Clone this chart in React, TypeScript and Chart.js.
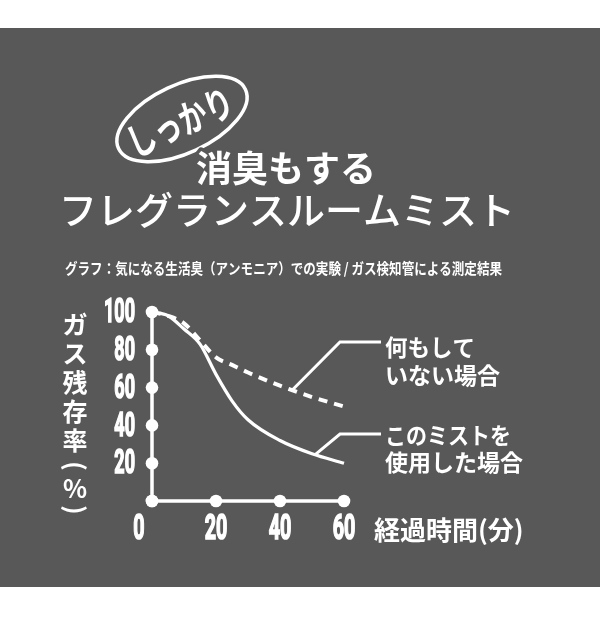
import React, { useEffect, useRef } from "react";
import { Chart, registerables } from "chart.js";

Chart.register(...registerables);

// ---- data ----
const times = [0, 5, 10, 15, 20, 25, 30, 40, 50, 60];
const noMistValues = [100, 98, 94, 85, 76, 72, 68, 61, 55, 50];
const mistValues = [100, 98, 91, 83, 67, 53, 43, 32, 25, 20];

const yTickValues = [20, 40, 60, 80, 100];
const yTickLabels = ["20", "40", "60", "80", "100"];
const xTickValues = [0, 20, 40, 60];
const xTickLabels = ["0", "20", "40", "60"];

const badgeText = "しっかり";
const titleLine1 = "消臭もする";
const titleLine2 = "フレグランスルームミスト";
const subtitle = "グラフ：気になる生活臭（アンモニア）での実験 / ガス検知管による測定結果";
const yTitleChars = ["ガ", "ス", "残", "存", "率", "(", "%", ")"];
const xTitle = "経過時間(分)";
const noMistLabel = ["何もして", "いない場合"];
const mistLabel = ["このミストを", "使用した場合"];
// callout anchor points (on the curves)
const noMistAnchor = { x: 44, y: 59 };
const mistAnchor = { x: 51, y: 24.5 };

const GRAY = "#585858";
const WHITE = "#ffffff";
const JP = '"Noto Sans CJK JP", "Noto Sans", sans-serif';
const NUM = 'Roboto, "DejaVu Sans", sans-serif';

const decorPlugin = {
  id: "decor",
  beforeDraw(chart: any) {
    const ctx = chart.ctx;
    ctx.save();
    ctx.fillStyle = WHITE;
    ctx.fillRect(0, 0, chart.width, chart.height);
    ctx.fillStyle = GRAY;
    ctx.fillRect(0, 28, chart.width, 559);
    ctx.restore();
  },
  beforeDatasetsDraw(chart: any) {
    const ctx = chart.ctx;
    const xs = chart.scales.x;
    const ys = chart.scales.y;
    const x0 = xs.getPixelForValue(0);
    const y0 = ys.getPixelForValue(0);
    ctx.save();
    ctx.strokeStyle = WHITE;
    ctx.lineWidth = 3.5;
    ctx.lineCap = "round";
    ctx.beginPath();
    ctx.moveTo(x0, ys.getPixelForValue(100));
    ctx.lineTo(x0, y0);
    ctx.lineTo(xs.getPixelForValue(60), y0);
    ctx.stroke();
    ctx.fillStyle = WHITE;
    const dot = (x: number, y: number) => {
      ctx.beginPath();
      ctx.arc(x, y, 6.3, 0, Math.PI * 2);
      ctx.fill();
    };
    dot(x0, y0);
    yTickValues.forEach((v) => dot(x0, ys.getPixelForValue(v)));
    xTickValues.forEach((v) => dot(xs.getPixelForValue(v), y0));

    // tick labels (condensed digits)
    const narrow = (t: string, x: number, y: number, size: number, align: string) => {
      ctx.save();
      ctx.font = `bold ${size}px ${NUM}`;
      ctx.textBaseline = "middle";
      ctx.translate(x, y);
      ctx.scale(0.58, 1.05);
      ctx.textAlign = align;
      ctx.lineWidth = 1.6;
      ctx.strokeStyle = WHITE;
      ctx.strokeText(t, 0, 0);
      ctx.fillText(t, 0, 0);
      ctx.restore();
    };
    yTickValues.forEach((v, i) => narrow(yTickLabels[i], 135, ys.getPixelForValue(v) + 2, 31, "right"));
    xTickValues.forEach((v, i) =>
      narrow(xTickLabels[i], xs.getPixelForValue(v) - (i === 0 ? 13 : 0), 530, 34, "center")
    );

    // callout lines
    ctx.lineWidth = 3;
    ctx.lineCap = "butt";
    ctx.lineJoin = "miter";
    const a1x = xs.getPixelForValue(noMistAnchor.x);
    const a1y = ys.getPixelForValue(noMistAnchor.y);
    ctx.beginPath();
    ctx.moveTo(a1x, a1y);
    ctx.lineTo(340, 342);
    ctx.lineTo(381, 342);
    ctx.stroke();
    const a2x = xs.getPixelForValue(mistAnchor.x);
    const a2y = ys.getPixelForValue(mistAnchor.y);
    ctx.beginPath();
    ctx.moveTo(a2x, a2y);
    ctx.lineTo(340, 434);
    ctx.lineTo(381, 434);
    ctx.stroke();
    ctx.restore();
  },
  afterDraw(chart: any) {
    const ctx = chart.ctx;
    ctx.save();
    ctx.fillStyle = WHITE;
    ctx.strokeStyle = WHITE;

    // badge ellipse
    ctx.lineWidth = 3.5;
    ctx.beginPath();
    ctx.ellipse(182, 119, 70, 34, (-25 * Math.PI) / 180, 0, Math.PI * 2);
    ctx.stroke();
    ctx.save();
    ctx.translate(180, 122);
    ctx.rotate((-24 * Math.PI) / 180);
    ctx.scale(0.85, 1.15);
    ctx.font = `bold 33px ${JP}`;
    ctx.textAlign = "center";
    ctx.textBaseline = "middle";
    ctx.fillText(badgeText, 0, 0);
    ctx.restore();

    // title
    ctx.textBaseline = "middle";
    ctx.textAlign = "left";
    ctx.font = `bold 36px ${JP}`;
    ctx.strokeStyle = GRAY;
    ctx.lineWidth = 7;
    ctx.lineJoin = "round";
    ctx.strokeText(titleLine1, 196, 168);
    ctx.fillText(titleLine1, 196, 168);
    ctx.font = `500 38px ${JP}`;
    ctx.fillText(titleLine2, 59, 210);

    // subtitle
    ctx.font = `bold 15px ${JP}`;
    ctx.fillText(subtitle, 65, 268, 437);

    // y title (vertical)
    ctx.font = `bold 25px ${JP}`;
    ctx.textAlign = "center";
    const ys = [324, 353, 382, 411, 440, 466, 488, 510];
    yTitleChars.forEach((c, i) => {
      if (c === "(" || c === ")") {
        ctx.save();
        ctx.translate(75, ys[i]);
        ctx.rotate(Math.PI / 2);
        ctx.fillText(c, 0, 0);
        ctx.restore();
      } else {
        ctx.fillText(c, 75, ys[i]);
      }
    });

    // x title
    ctx.textAlign = "left";
    ctx.font = `bold 26px ${JP}`;
    ctx.fillText(xTitle, 374, 530, 150);

    // callout labels
    ctx.font = `bold 23px ${JP}`;
    ctx.fillText(noMistLabel[0], 385, 347, 90);
    ctx.fillText(noMistLabel[1], 385, 375, 118);
    ctx.fillText(mistLabel[0], 385, 435, 126);
    ctx.fillText(mistLabel[1], 385, 462, 140);
    ctx.restore();
  },
};

export default function App() {
  const ref = useRef<HTMLCanvasElement | null>(null);
  useEffect(() => {
    if (!ref.current) return;
    const chart = new Chart(ref.current, {
      type: "line",
      data: {
        datasets: [
          {
            label: "何もしていない場合",
            data: times.map((t, i) => ({ x: t, y: noMistValues[i] })),
            borderColor: WHITE,
            borderWidth: 4,
            borderDash: [9, 7],
            pointRadius: 0,
            cubicInterpolationMode: "monotone",
            clip: false,
            fill: false,
          },
          {
            label: "このミストを使用した場合",
            data: times.map((t, i) => ({ x: t, y: mistValues[i] })),
            borderColor: WHITE,
            borderWidth: 3.2,
            pointRadius: 0,
            cubicInterpolationMode: "monotone",
            clip: false,
            fill: false,
          },
        ],
      },
      options: {
        responsive: false,
        animation: false,
        devicePixelRatio: 1,
        layout: { padding: { left: 152, top: 312, right: 256, bottom: 129 } },
        scales: {
          x: { type: "linear", min: 0, max: 60, display: false },
          y: { type: "linear", min: 0, max: 100, display: false },
        },
        plugins: { legend: { display: false }, tooltip: { enabled: false } },
      },
      plugins: [decorPlugin],
    } as any);
    return () => chart.destroy();
  }, []);
  return (
    <div style={{ position: "absolute", left: 0, top: 0, width: 600, height: 630 }}>
      <canvas ref={ref} width={600} height={630} style={{ display: "block" }} />
    </div>
  );
}
